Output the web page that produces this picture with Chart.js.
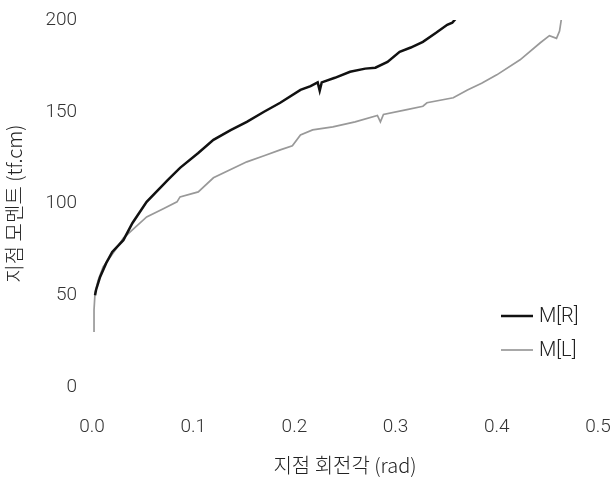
<!DOCTYPE html>
<html>
<head>
<meta charset="utf-8">
<script src="https://cdn.jsdelivr.net/npm/chart.js@4"></script>
<style>
  html, body { margin: 0; padding: 0; background: #fff; overflow: hidden; }
  #wrap { width: 615px; height: 479px; }
</style>
</head>
<body>
<div id="wrap"><canvas id="chart" width="615" height="479"></canvas></div>
<script>
// 지점 회전각 (rad) vs 지점 모멘트 (tf.cm)
const seriesNames = ['M[R]', 'M[L]'];

const rotR = [0.003, 0.004, 0.008, 0.014, 0.020, 0.031, 0.040, 0.054, 0.075, 0.087, 0.105, 0.120, 0.137, 0.153, 0.170, 0.186, 0.206, 0.216, 0.223, 0.225, 0.227, 0.240, 0.255, 0.270, 0.280, 0.292, 0.304, 0.315, 0.327, 0.340, 0.351, 0.356, 0.361];
const momR = [50.0, 52.9, 60.0, 67.5, 73.6, 80.0, 89.4, 100.9, 112.9, 119.4, 127.5, 134.7, 140.0, 144.5, 150.0, 154.9, 161.9, 164.0, 166.0, 161.5, 166.0, 168.5, 171.8, 173.5, 174.0, 177.2, 182.7, 185.0, 188.1, 193.0, 197.4, 198.5, 201.7];

const rotL = [0.002, 0.002, 0.003, 0.006, 0.011, 0.023, 0.031, 0.054, 0.070, 0.084, 0.087, 0.105, 0.120, 0.153, 0.170, 0.186, 0.198, 0.206, 0.218, 0.238, 0.260, 0.282, 0.285, 0.288, 0.310, 0.327, 0.331, 0.357, 0.371, 0.385, 0.400, 0.423, 0.443, 0.452, 0.459, 0.462, 0.464];
const momL = [30.0, 42.0, 51.3, 58.0, 65.4, 74.7, 81.2, 92.7, 97.0, 100.9, 103.6, 106.3, 114.0, 122.7, 126.0, 129.2, 131.5, 137.4, 140.1, 141.8, 144.5, 148.0, 144.5, 148.5, 151.0, 153.0, 154.9, 157.6, 161.9, 165.5, 170.1, 178.3, 187.6, 191.5, 190.0, 194.0, 201.2];

const xTicks = [0, 0.1, 0.2, 0.3, 0.4, 0.5];
const yTicks = [0, 50, 100, 150, 200];

const toPoints = (xs, ys) => xs.map((x, i) => ({ x: x, y: ys[i] }));

const legendPlugin = {
    id: 'sideLegend',
    afterDraw(chart) {
        const ctx = chart.ctx;
        ctx.save();
        ctx.font = '300 20px Roboto, "Liberation Sans", sans-serif';
        ctx.textBaseline = 'middle';
        ctx.fillStyle = '#222';
        chart.data.datasets.forEach((ds, i) => {
            const y = 316 + i * 34;
            ctx.strokeStyle = ds.borderColor;
            ctx.lineWidth = ds.borderWidth;
            ctx.beginPath();
            ctx.moveTo(501, y);
            ctx.lineTo(533, y);
            ctx.stroke();
            ctx.fillText(ds.label, 539, y + 1);
        });
        ctx.restore();
    }
};

const tickFont = { family: 'Roboto, "Liberation Sans", sans-serif', size: 19, weight: '300' };
const titleFont = { family: '"Noto Sans CJK KR", "Liberation Sans", sans-serif', size: 20, weight: '300' };

new Chart(document.getElementById('chart').getContext('2d'), {
    type: 'line',
    data: {
        datasets: [
            {
                label: seriesNames[0],
                data: toPoints(rotR, momR),
                borderColor: '#111',
                borderWidth: 2.5,
                pointRadius: 0,
                tension: 0,
            },
            {
                label: seriesNames[1],
                data: toPoints(rotL, momL),
                borderColor: '#999',
                borderWidth: 1.7,
                pointRadius: 0,
                tension: 0,
            },
        ],
    },
    options: {
        responsive: false,
        animation: false,
        layout: { padding: { left: 0, right: 17, top: 20, bottom: 0 } },
        plugins: {
            legend: { display: false },
            tooltip: { enabled: false },
        },
        scales: {
            x: {
                type: 'linear',
                min: 0,
                max: 0.5,
                afterBuildTicks: (scale) => { scale.ticks = xTicks.map(v => ({ value: v })); },
                afterFit: (scale) => {
                    scale.height = 92;
                    scale.paddingLeft = 0;
                    scale.paddingRight = 0;
                },
                grid: { display: false, drawTicks: false },
                border: { display: false },
                ticks: {
                    padding: 29,
                    color: '#333',
                    font: tickFont,
                    maxRotation: 0,
                    callback: (v) => Number(v).toFixed(1),
                },
                title: {
                    display: true,
                    text: '지점 회전각 (rad)',
                    color: '#222',
                    font: titleFont,
                    padding: 2,
                },
            },
            y: {
                min: 0,
                max: 200,
                afterBuildTicks: (scale) => { scale.ticks = yTicks.map(v => ({ value: v })); },
                afterFit: (scale) => {
                    scale.width = 92;
                    scale.paddingTop = 0;
                    scale.paddingBottom = 0;
                },
                grid: { display: false, drawTicks: false },
                border: { display: false },
                ticks: {
                    padding: 15,
                    color: '#333',
                    font: tickFont,
                },
                title: {
                    display: true,
                    text: '지점 모멘트 (tf.cm)',
                    color: '#222',
                    font: titleFont,
                    padding: 2,
                },
            },
        },
    },
    plugins: [legendPlugin],
});
</script>
</body>
</html>
